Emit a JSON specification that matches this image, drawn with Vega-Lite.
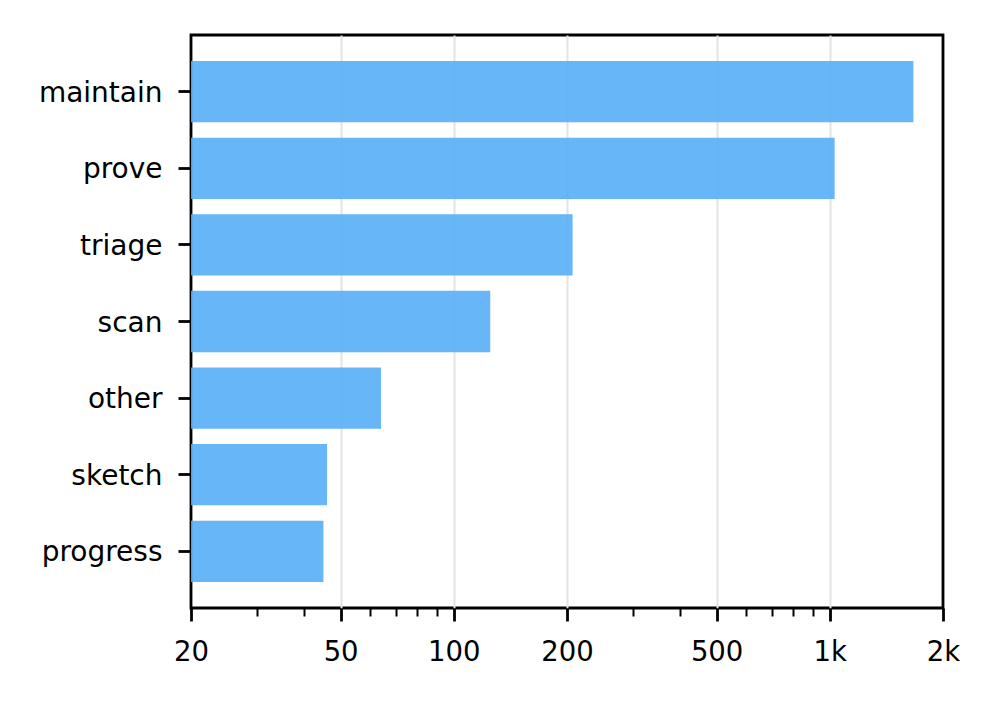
{
  "$schema": "https://vega.github.io/schema/vega-lite/v6.json",
  "autosize": "none",
  "padding": {"left": 191, "top": 35, "right": 53, "bottom": 95},
  "width": 752,
  "height": 573,
  "background": "white",
  "config": {
    "view": {"stroke": "black", "strokeWidth": 2.8},
    "font": "DejaVu Sans"
  },
  "data": {
    "values": [
      {"task": "maintain", "count": 1668},
      {"task": "prove", "count": 1030},
      {"task": "triage", "count": 207},
      {"task": "scan", "count": 125},
      {"task": "other", "count": 64},
      {"task": "sketch", "count": 46},
      {"task": "progress", "count": 45}
    ]
  },
  "mark": {"type": "bar", "color": "#56AEF6", "opacity": 0.9},
  "encoding": {
    "y": {
      "field": "task",
      "type": "nominal",
      "sort": null,
      "scale": {"paddingInner": 0.2, "paddingOuter": 0.34},
      "axis": {
        "title": null,
        "domain": false,
        "grid": false,
        "ticks": true,
        "tickSize": 13,
        "tickWidth": 2.8,
        "tickColor": "black",
        "labelFont": "DejaVu Sans",
        "labelFontSize": 28,
        "labelColor": "black",
        "labelPadding": 16,
        "labelOffset": 2
      }
    },
    "x": {
      "field": "count",
      "type": "quantitative",
      "scale": {"type": "log", "domain": [20, 2000], "nice": false},
      "axis": {
        "title": null,
        "domain": false,
        "values": [20, 30, 40, 50, 60, 70, 80, 90, 100, 200, 300, 400, 500, 600, 700, 800, 900, 1000, 2000],
        "labelExpr": "datum.value == 1000 ? '1k' : datum.value == 2000 ? '2k' : (indexof([20, 50, 100, 200, 500], datum.value) >= 0 ? datum.label : '')",
        "labelFont": "DejaVu Sans",
        "labelFontSize": 27.5,
        "labelColor": "black",
        "labelPadding": 17,
        "labelOverlap": false,
        "labelFlush": false,
        "tickColor": "black",
        "tickSize": {"condition": {"test": "indexof([20, 50, 100, 200, 500, 1000, 2000], datum.value) >= 0", "value": 13}, "value": 8},
        "tickWidth": {"condition": {"test": "indexof([20, 50, 100, 200, 500, 1000, 2000], datum.value) >= 0", "value": 2.8}, "value": 2},
        "grid": true,
        "gridColor": "#e3e3e3",
        "gridWidth": 2,
        "gridOpacity": {"condition": {"test": "indexof([50, 100, 200, 500, 1000], datum.value) >= 0", "value": 1}, "value": 0}
      }
    },
    "x2": {"datum": 20}
  }
}
